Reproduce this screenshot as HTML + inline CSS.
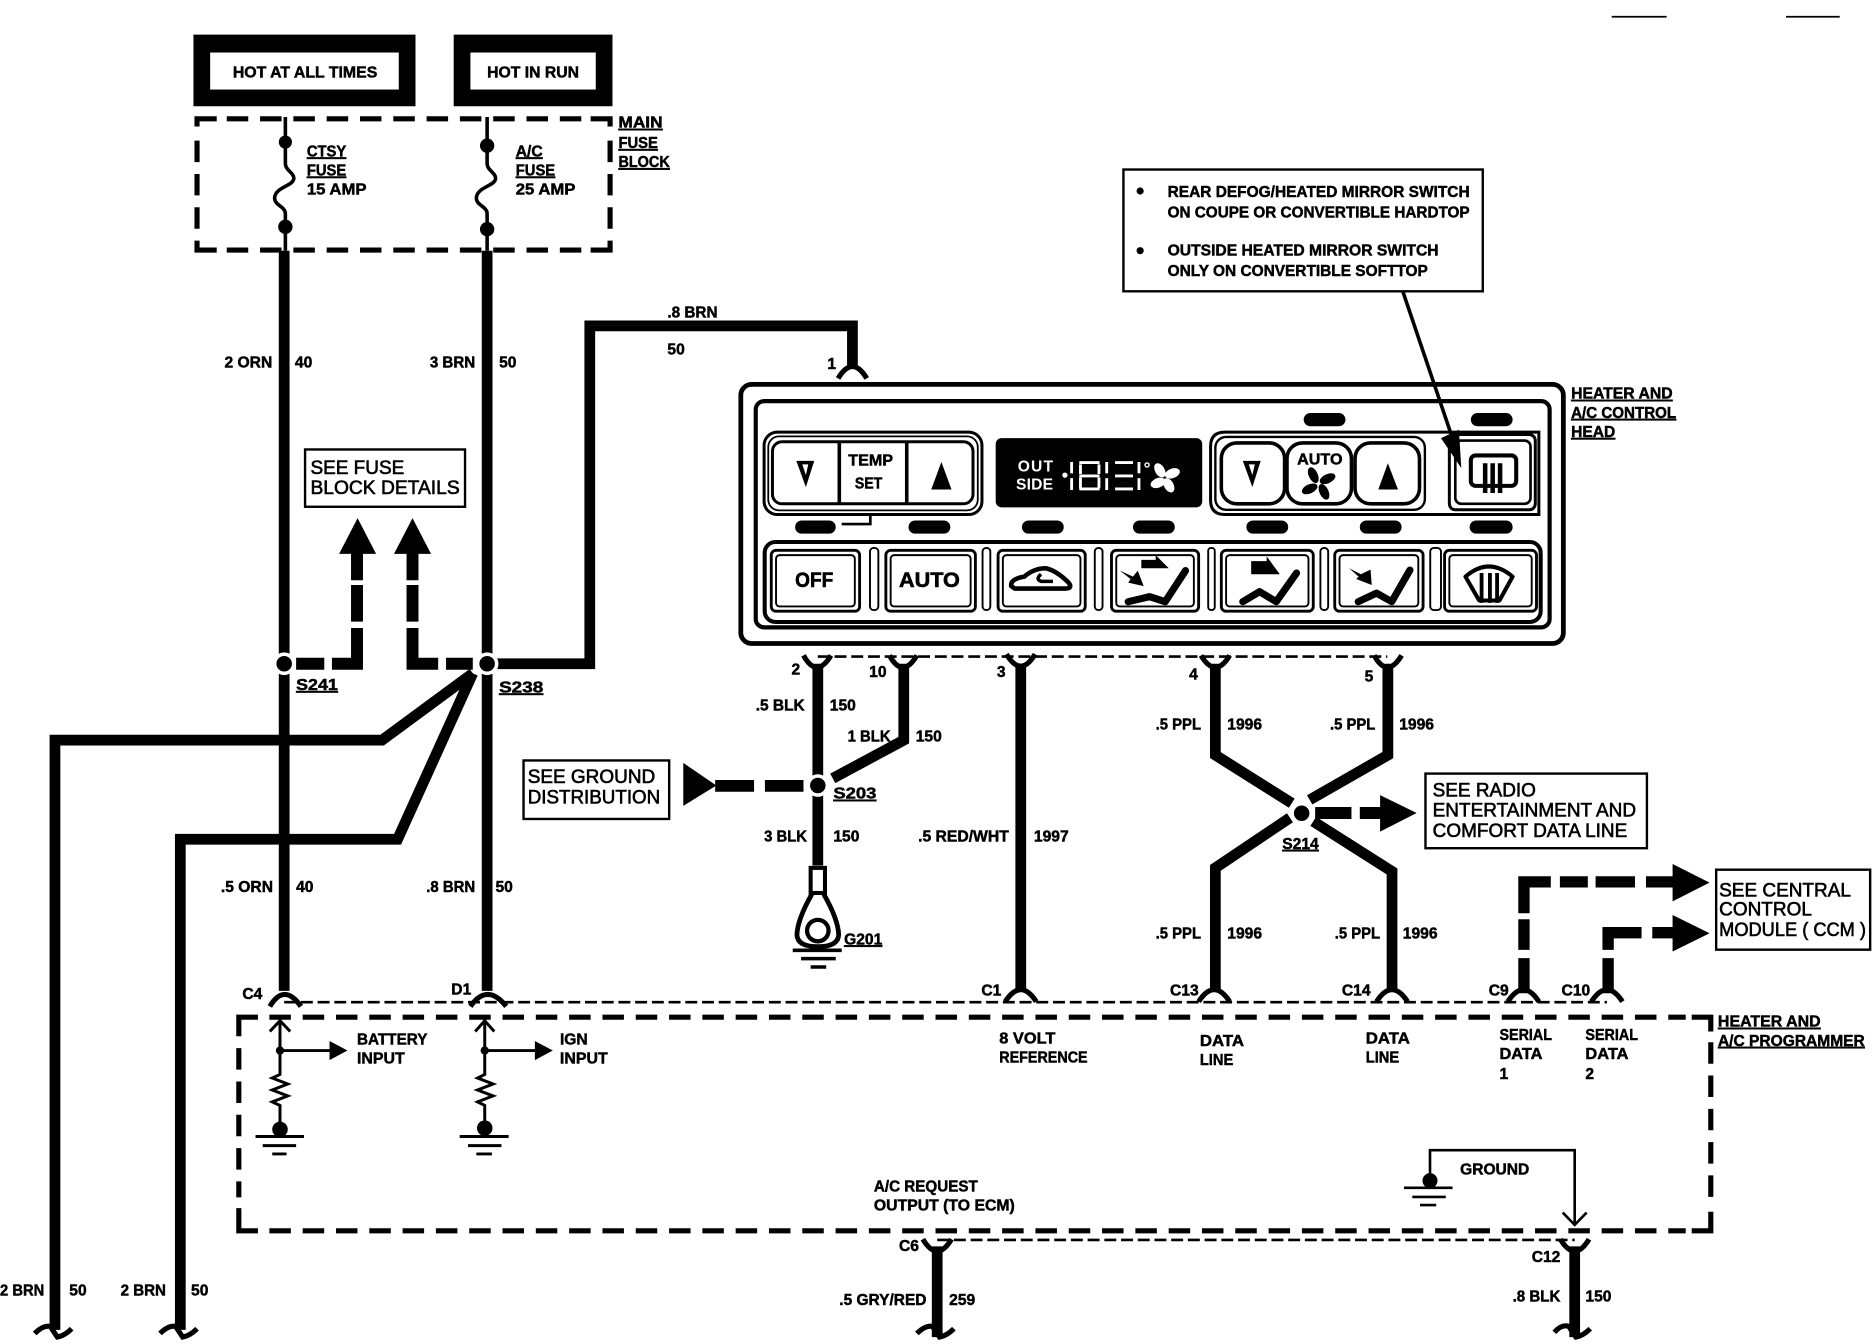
<!DOCTYPE html>
<html><head><meta charset="utf-8"><style>
html,body{margin:0;padding:0;background:#fff}
svg{display:block}
text{font-family:"Liberation Sans",sans-serif;font-weight:bold;font-size:13.1px;fill:#000;stroke:#000;stroke-width:.4px}
.n{font-weight:normal;font-size:15.9px;stroke-width:.5px}
.u{text-decoration:underline}
.w{fill:none;stroke:#000;stroke-width:9}
.t{fill:none;stroke:#000;stroke-width:3}
.b{fill:none;stroke:#000;stroke-width:4}
.th{fill:none;stroke:#000;stroke-width:2.2}
.bx{fill:none;stroke:#000;stroke-width:4.3;stroke-dasharray:18 9.9}
.c{fill:none;stroke:#000;stroke-width:4.3}
.p{fill:#000}
.dot{fill:#000;stroke:#fff;stroke-width:3}
</style></head><body>
<svg xmlns="http://www.w3.org/2000/svg" width="1872" height="1344" viewBox="0 0 1568 1125.8">
<rect width="1568" height="1126" fill="#fff"/>
<line x1="1350" y1="14" x2="1396" y2="14" stroke="#000" stroke-width="1.5"/>
<line x1="1496" y1="14" x2="1541" y2="14" stroke="#000" stroke-width="1.5"/>

<!-- hot boxes -->
<rect x="162" y="29" width="186" height="60" class="p"/><rect x="176" y="44" width="158" height="31" fill="#fff"/>
<rect x="380" y="29" width="133" height="60" class="p"/><rect x="394" y="44" width="105" height="31" fill="#fff"/>
<text x="195" y="65" textLength="121" lengthAdjust="spacingAndGlyphs">HOT AT ALL TIMES</text>
<text x="408" y="65" textLength="77" lengthAdjust="spacingAndGlyphs">HOT IN RUN</text>

<!-- fuse block -->
<path class="c" d="M165 106V99.500H181.500M511 106V99.500H494.700M165 201.600V209.500H181.500M511 201.600V209.500H494.700"/>
<path class="bx" d="M189.900 99.500H490M189.900 209.500H490"/>
<path class="bx" d="M165 117.800V195M511 117.800V195"/>
<path class="t" d="M239 98V137C239 143 247 145 246 150C245 156 230 157 230 166C230 172 239 173 239 179V210"/>
<path class="t" d="M408 98V137C408 143 416 145 415 150C414 156 399 157 399 166C399 172 408 173 408 179V210"/>
<circle cx="239" cy="119" r="5.500"/><circle cx="239" cy="190" r="6"/>
<circle cx="408" cy="122" r="6"/><circle cx="408" cy="192" r="6"/>
<text x="257" y="131" class="u" textLength="33" lengthAdjust="spacingAndGlyphs">CTSY</text><text x="257" y="147" class="u" textLength="33" lengthAdjust="spacingAndGlyphs">FUSE</text><text x="257" y="163" textLength="50" lengthAdjust="spacingAndGlyphs">15 AMP</text>
<text x="432" y="131" class="u">A/C</text><text x="432" y="147" class="u" textLength="33" lengthAdjust="spacingAndGlyphs">FUSE</text><text x="432" y="163" textLength="50" lengthAdjust="spacingAndGlyphs">25 AMP</text>
<text x="518" y="107" class="u" textLength="37" lengthAdjust="spacingAndGlyphs">MAIN</text><text x="518" y="124" class="u" textLength="33" lengthAdjust="spacingAndGlyphs">FUSE</text><text x="518" y="140" class="u" textLength="43" lengthAdjust="spacingAndGlyphs">BLOCK</text>

<!-- main wires -->
<path class="w" d="M238 210V830M408 210V830"/>
<path class="w" d="M408 556H494V273H714V306"/>
<path class="w" d="M396 564L320 620H46V1114"/>
<path class="w" d="M396 564L333 703H151V1114"/>
<path class="c" d="M702 317Q714 297 726 317"/>
<path class="c" d="M29 1117Q36 1110 42 1111L48 1120Q54 1119 60 1113M134 1117Q141 1110 147 1111L153 1120Q159 1119 165 1113"/>

<!-- dashed to fuse block details -->
<g fill="none" stroke="#000" stroke-width="10">
<path d="M248 556H271.600M278 556H299V526M299 520.700V490M299 486V460"/>
<path d="M396 556H373.600M367 556H345.500V526M345.500 520.700V490M345.500 486V460"/>
</g>
<path class="p" d="M284 464H315L299.500 434ZM330 464H361L345.500 434Z"/>
<circle cx="238" cy="556" r="8" class="dot"/>
<circle cx="408" cy="556" r="8" class="dot"/>

<text x="188" y="308">2 ORN</text><text x="247" y="308">40</text>
<text x="360" y="308" textLength="38" lengthAdjust="spacingAndGlyphs">3 BRN</text><text x="418" y="308">50</text>
<text x="559" y="266" textLength="42" lengthAdjust="spacingAndGlyphs">.8 BRN</text><text x="559" y="297">50</text>
<text x="693" y="309">1</text>

<rect x="255.500" y="376.500" width="134" height="48" fill="#fff" stroke="#000" stroke-width="2"/>
<text class="n" x="260" y="397">SEE FUSE</text><text class="n" x="260" y="414" textLength="125" lengthAdjust="spacingAndGlyphs">BLOCK DETAILS</text>

<text x="248" y="578" class="u" textLength="35" lengthAdjust="spacingAndGlyphs">S241</text>
<text x="418" y="580" class="u" textLength="37" lengthAdjust="spacingAndGlyphs">S238</text>

<text x="185" y="747">.5 ORN</text><text x="248" y="747">40</text>
<text x="357" y="747" textLength="41" lengthAdjust="spacingAndGlyphs">.8 BRN</text><text x="415" y="747">50</text>
<text x="0" y="1085" textLength="37" lengthAdjust="spacingAndGlyphs">2 BRN</text><text x="58" y="1085">50</text>
<text x="101" y="1085" textLength="38" lengthAdjust="spacingAndGlyphs">2 BRN</text><text x="160" y="1085">50</text>

<!-- control head -->
<rect x="620.500" y="322" width="689" height="217" rx="9" class="b"/>
<rect x="633" y="336" width="665" height="189.500" rx="7" style="fill:none;stroke:#000;stroke-width:3.500"/>
<g class="p">
<rect x="1092" y="346" width="35" height="11" rx="5.500"/><rect x="1232" y="346" width="35" height="11" rx="5.500"/>
<rect x="666" y="436" width="34" height="11" rx="5.500"/><rect x="761" y="436" width="35" height="11" rx="5.500"/>
<rect x="856" y="436" width="35" height="11" rx="5.500"/><rect x="949" y="436" width="35" height="11" rx="5.500"/>
<rect x="1044" y="436" width="35" height="11" rx="5.500"/><rect x="1139" y="436" width="35" height="11" rx="5.500"/>
<rect x="1231" y="436" width="36" height="11" rx="5.500"/>
</g>
<path class="th" d="M705 439H729V432"/>

<!-- temp group -->
<rect x="640" y="362" width="182.500" height="69" rx="11" style="fill:none;stroke:#000;stroke-width:2.500"/>
<rect x="643.500" y="365.500" width="175.500" height="62" rx="9" style="fill:none;stroke:#000;stroke-width:1.500"/>
<rect x="647" y="370" width="168" height="52" rx="8" style="fill:none;stroke:#000;stroke-width:2.500"/>
<path class="t" d="M703 370V422M759.500 370V422"/>
<path class="p" d="M667 386H682L675 408Z"/><path fill="#fff" d="M672 389H677L675 398Z"/>
<path class="p" d="M788.500 387L780 410H797Z"/>
<text x="710.500" y="390" textLength="37.500" lengthAdjust="spacingAndGlyphs">TEMP</text><text x="716" y="409" textLength="23" lengthAdjust="spacingAndGlyphs">SET</text>

<!-- display -->
<rect x="834" y="367" width="173" height="58" rx="5" class="p"/>
<text x="852.500" y="395" textLength="29.500" style="fill:#fff;stroke:none" font-weight="normal">OUT</text>
<text x="851" y="410" textLength="31" style="fill:#fff;stroke:none" font-weight="normal">SIDE</text>
<g stroke="#fff" stroke-width="2.400" fill="none">
<path d="M897.600 387V396.500M897.600 400.500V410.500M904 387.500H921M904 398.700H921M904 409.600H921M905 389V397M920.500 389V397M905 400V409M920.500 400V409M927 387V396.500M927 400.500V410.500M934 387.500H949M934 398.700H949M934 409.600H949M954 387V396.500M954 400.500V410.500"/>
</g>
<circle cx="892" cy="398" r="2.200" fill="#fff"/>
<circle cx="960.800" cy="389.500" r="1.700" fill="none" stroke="#fff" stroke-width="1.200"/>
<g fill="#fff"><ellipse cx="971.500" cy="394" rx="4" ry="6.500" transform="rotate(-30 971.500 394)"/><ellipse cx="982" cy="396.500" rx="6.500" ry="4" transform="rotate(-20 982 396.500)"/><ellipse cx="979" cy="406.500" rx="4" ry="6.500" transform="rotate(-30 979 406.500)"/><ellipse cx="970" cy="404.500" rx="6.500" ry="4" transform="rotate(-20 970 404.500)"/></g>

<!-- fan group -->
<path style="fill:none;stroke:#000;stroke-width:2.500" d="M1289 362H1026Q1014 362 1014 374V419Q1014 431 1026 431H1289Z"/>
<rect x="1018" y="366" width="175.500" height="61" rx="9" style="fill:none;stroke:#000;stroke-width:2"/>
<rect x="1023" y="371" width="53" height="51" rx="13" class="t"/>
<rect x="1078" y="371" width="54" height="51" rx="13" class="t"/>
<rect x="1135" y="371" width="54" height="51" rx="13" class="t"/>
<path class="p" d="M1041 386H1056L1049 408Z"/><path fill="#fff" d="M1046 389H1051L1049 398Z"/>
<path class="p" d="M1162.500 388L1154.500 410H1171Z"/>
<text x="1086.500" y="389" textLength="38" lengthAdjust="spacingAndGlyphs">AUTO</text>
<g class="p"><ellipse cx="1100" cy="398" rx="3.800" ry="7" transform="rotate(-25 1100 398)"/><ellipse cx="1112" cy="401" rx="7" ry="3.800" transform="rotate(-25 1112 401)"/><ellipse cx="1109" cy="412" rx="3.800" ry="7" transform="rotate(-25 1109 412)"/><ellipse cx="1097" cy="409.500" rx="7" ry="3.800" transform="rotate(-25 1097 409.500)"/></g>
<rect x="1214" y="364" width="72" height="63" rx="5" style="fill:none;stroke:#000;stroke-width:2.500"/>
<rect x="1219" y="369" width="63" height="53" rx="5" class="th"/>
<rect x="1232" y="381.500" width="38" height="25.500" rx="4" style="fill:none;stroke:#000;stroke-width:3.400"/>
<path d="M1244 388V413M1250.300 388V413M1256.500 388V413" stroke="#000" stroke-width="3.800" fill="none"/>

<!-- bottom row -->
<rect x="640.500" y="454" width="650" height="67" rx="9" style="fill:none;stroke:#000;stroke-width:3.400"/>
<g style="fill:none;stroke:#000;stroke-width:2.400">
<rect x="646" y="461" width="74" height="51" rx="4"/><rect x="742" y="461" width="75" height="51" rx="4"/>
<rect x="836" y="461" width="73" height="51" rx="4"/><rect x="931" y="461" width="73" height="51" rx="4"/>
<rect x="1023" y="461" width="77" height="51" rx="4"/><rect x="1118" y="461" width="74" height="51" rx="4"/>
<rect x="1210" y="461" width="77" height="51" rx="4"/>
</g>
<g style="fill:none;stroke:#000;stroke-width:1.600">
<rect x="650" y="465" width="66" height="43" rx="3"/><rect x="746" y="465" width="67" height="43" rx="3"/>
<rect x="840" y="465" width="65" height="43" rx="3"/><rect x="935" y="465" width="65" height="43" rx="3"/>
<rect x="1027" y="465" width="69" height="43" rx="3"/><rect x="1122" y="465" width="66" height="43" rx="3"/>
<rect x="1214" y="465" width="69" height="43" rx="3"/>
<rect x="728.700" y="459" width="7" height="52" rx="3"/><rect x="823" y="459" width="6.500" height="52" rx="3"/>
<rect x="917" y="459" width="6.500" height="52" rx="3"/><rect x="1012" y="459" width="5.500" height="52" rx="2.500"/>
<rect x="1106" y="459" width="6.500" height="52" rx="3"/><rect x="1198" y="459" width="9" height="52" rx="3"/>
</g>
<text x="666" y="491.500" textLength="32" lengthAdjust="spacingAndGlyphs" style="font-size:17.500px;stroke-width:.5">OFF</text>
<text x="753" y="491.500" textLength="51" lengthAdjust="spacingAndGlyphs" style="font-size:17.500px;stroke-width:.5">AUTO</text>
<path style="fill:none;stroke:#000;stroke-width:3.800;stroke-linejoin:round" d="M847 491Q846 485 858 483Q866 476 876 476Q885 478 895 488Q899 493 892 493H850Z"/>
<path class="t" d="M882 487H872Q867 485 872 481"/>
<g fill="none" stroke="#000" stroke-width="6" stroke-linecap="round" stroke-linejoin="round">
<path d="M945 504L963 499.800L976 504L993 478"/>
<path d="M1041 504L1055 495.600L1069 504L1086 480"/>
<path d="M1137.700 504L1153 496.800L1165.700 504L1181 477.500"/>
</g>
<g class="p">
<path d="M956 469H968V465L979 476H956Z"/><path d="M938 478L949 483L953 478L958 491L945 488L947 485Z"/>
<path d="M1048 470H1061V466L1072 481H1048Z"/>
<path d="M1130 476L1140 481L1148 477L1149 490L1136 485L1138 483Z"/>
</g>
<path style="fill:none;stroke:#000;stroke-width:3.400;stroke-linejoin:round" d="M1227.500 483Q1247 466 1267 483L1256 503H1239Z"/>
<path d="M1241 480V505M1248 480V505M1254 480V505" stroke="#000" stroke-width="3.200" fill="none"/>

<text x="1316" y="334" class="u" textLength="85" lengthAdjust="spacingAndGlyphs">HEATER AND</text><text x="1316" y="350" class="u" textLength="88" lengthAdjust="spacingAndGlyphs">A/C CONTROL</text><text x="1316" y="366" class="u" textLength="37" lengthAdjust="spacingAndGlyphs">HEAD</text>

<!-- note -->
<rect x="941" y="142" width="301" height="102" fill="#fff" stroke="#000" stroke-width="2"/>
<circle cx="955" cy="160" r="3"/><circle cx="955" cy="210" r="3"/>
<text x="978" y="165" textLength="253" lengthAdjust="spacingAndGlyphs">REAR DEFOG/HEATED MIRROR SWITCH</text>
<text x="978" y="182" textLength="253" lengthAdjust="spacingAndGlyphs">ON COUPE OR CONVERTIBLE HARDTOP</text>
<text x="978" y="214" textLength="227" lengthAdjust="spacingAndGlyphs">OUTSIDE HEATED MIRROR SWITCH</text>
<text x="978" y="231" textLength="218" lengthAdjust="spacingAndGlyphs">ONLY ON CONVERTIBLE SOFTTOP</text>
<path class="t" d="M1175 244L1221 380"/>
<path class="p" d="M1207 367L1224 392L1222 360Z"/>

<!-- under-head connectors -->
<path d="M685 550H1162" fill="none" stroke="#000" stroke-width="2.200" stroke-dasharray="10 4"/>
<path class="w" d="M685 556V725M757 556V620L697.500 652M855 556V830M1018 556V632.500L1082 672.800M1162.500 556V632.500L1097 670"/>
<path class="w" d="M1080.500 685L1018 727V830M1100 688L1166 730V830"/>
<path class="c" d="M673 549Q684 569 696 549M745 549Q756 569 768 549M843 548Q855 568 867 548M1006 549Q1018 569 1030 549M1151 549Q1162 569 1174 549"/>
<circle cx="685" cy="658" r="8" class="dot"/>
<circle cx="1090.300" cy="681.200" r="8" class="dot"/>
<path fill="none" stroke="#000" stroke-width="9.800" d="M599 658.300H631.600M640.700 658.300H673"/>
<path class="p" d="M572.300 639V675L600 658Z"/>
<path fill="none" stroke="#000" stroke-width="10" d="M1101.600 681H1132M1139 681H1158"/>
<path class="p" d="M1156 666V696.600L1186.600 681Z"/>
<rect x="438.500" y="637" width="122" height="49" fill="#fff" stroke="#000" stroke-width="2"/>
<text class="n" x="442" y="656">SEE GROUND</text><text class="n" x="442" y="673" textLength="111" lengthAdjust="spacingAndGlyphs">DISTRIBUTION</text>
<rect x="1194" y="648" width="185.500" height="62.500" fill="#fff" stroke="#000" stroke-width="2"/>
<text class="n" x="1200" y="667">SEE RADIO</text><text class="n" x="1200" y="684">ENTERTAINMENT AND</text><text class="n" x="1200" y="701">COMFORT DATA LINE</text>

<text x="663" y="565">2</text><text x="728" y="567">10</text><text x="835" y="567">3</text><text x="996" y="569">4</text><text x="1143" y="571">5</text>
<text x="633" y="595" textLength="41" lengthAdjust="spacingAndGlyphs">.5 BLK</text><text x="695" y="595">150</text>
<text x="710" y="621" textLength="36" lengthAdjust="spacingAndGlyphs">1 BLK</text><text x="767" y="621">150</text>
<text x="640" y="705" textLength="36" lengthAdjust="spacingAndGlyphs">3 BLK</text><text x="698" y="705">150</text>
<text x="769" y="705" textLength="76" lengthAdjust="spacingAndGlyphs">.5 RED/WHT</text><text x="866" y="705">1997</text>
<text x="968" y="611" textLength="38" lengthAdjust="spacingAndGlyphs">.5 PPL</text><text x="1028" y="611">1996</text>
<text x="1114" y="611" textLength="38" lengthAdjust="spacingAndGlyphs">.5 PPL</text><text x="1172" y="611">1996</text>
<text x="968" y="786" textLength="38" lengthAdjust="spacingAndGlyphs">.5 PPL</text><text x="1028" y="786">1996</text>
<text x="1118" y="786" textLength="38" lengthAdjust="spacingAndGlyphs">.5 PPL</text><text x="1175" y="786">1996</text>
<text x="698" y="669" class="u" textLength="36" lengthAdjust="spacingAndGlyphs">S203</text>
<text x="1074" y="711" class="u">S214</text>
<text x="707" y="791" class="u">G201</text>

<!-- ground lug -->
<rect x="679" y="727" width="12" height="21" fill="#fff" stroke="#000" stroke-width="3.400"/>
<path class="b" d="M680 749Q668 770 667.500 783Q668 793 685 793Q702 793 702.500 783Q702 770 690 749"/>
<circle cx="685" cy="779.500" r="9" style="fill:#fff;stroke:#000;stroke-width:3.600"/>
<path class="t" d="M664 796H705M671 803H700M679 810H692"/>

<!-- programmer -->
<path d="M238 839.500H1346" fill="none" stroke="#000" stroke-width="2.200" stroke-dasharray="10 4"/>
<path class="c" d="M200 868V852H216M1417 852H1433V864M200 1012V1031H216M1417 1031H1433V1015"/>
<path class="bx" d="M225.600 852H1412M225.600 1031H1412"/>
<path class="bx" d="M200 878V1003M1433 873V1008"/>
<path class="c" d="M226 843Q238 823 252 843M394 843Q408 823 424 843M842 839Q855 819 868 839M1004 839Q1017 819 1030 839M1153 839Q1166 819 1179 839M1263 839Q1276 819 1289 839M1333 839Q1346 819 1359 839"/>
<g fill="none" stroke="#000" stroke-width="9.500">
<path d="M1276.500 765V738.700H1299M1306.600 738.700H1330M1336.500 738.700H1369.500M1378.700 738.700H1403M1276.500 770V795.700M1276.500 802.600V832"/>
<path d="M1347 795.700V781.300H1375M1384 781.300H1403M1347 802.600V832"/>
</g>
<path class="p" d="M1401 723.700V755L1432 739.300ZM1401 766.400V797L1432 781.700Z"/>
<rect x="1437.500" y="728.500" width="129" height="67" fill="#fff" stroke="#000" stroke-width="2"/>
<text class="n" x="1440" y="751">SEE CENTRAL</text><text class="n" x="1440" y="767">CONTROL</text><text class="n" x="1440" y="784" textLength="123" lengthAdjust="spacingAndGlyphs">MODULE ( CCM )</text>

<text x="203" y="837">C4</text><text x="378" y="833">D1</text><text x="822" y="834">C1</text>
<text x="980" y="834">C13</text><text x="1124" y="834">C14</text><text x="1247" y="834">C9</text><text x="1308" y="834">C10</text>

<!-- inputs -->
<g style="fill:none;stroke:#000;stroke-width:2.500">
<path d="M234.500 852V900L228 903L241 908L228 913L241 918L228 923L234.500 926V942"/>
<path d="M226 864L234.500 855L243 864"/>
<path d="M234.500 880H278"/>
<path d="M406 852V900L400 903L413 908L400 913L413 918L400 923L406 926V942"/>
<path d="M398 864L406 855L414 864"/>
<path d="M406 880H450"/>
<path d="M214 952H254.600M220 959.600H248M228 966.600H240"/>
<path d="M385 952H426M392 959.600H420M399 966.600H412"/>
</g>
<circle cx="234.500" cy="880" r="3.500"/><circle cx="406" cy="880" r="3.500"/>
<circle cx="234.500" cy="946" r="6.500"/><circle cx="406" cy="945" r="6.500"/>
<path class="p" d="M276 872L291 880L276 888ZM448 872L463 880L448 888Z"/>
<text x="299" y="875" textLength="59" lengthAdjust="spacingAndGlyphs">BATTERY</text><text x="299" y="891" textLength="40" lengthAdjust="spacingAndGlyphs">INPUT</text>
<text x="469" y="875">IGN</text><text x="469" y="891" textLength="40" lengthAdjust="spacingAndGlyphs">INPUT</text>
<text x="837" y="874" textLength="47" lengthAdjust="spacingAndGlyphs">8 VOLT</text><text x="837" y="890" textLength="74" lengthAdjust="spacingAndGlyphs">REFERENCE</text>
<text x="1005" y="876" textLength="37" lengthAdjust="spacingAndGlyphs">DATA</text><text x="1005" y="892" textLength="28" lengthAdjust="spacingAndGlyphs">LINE</text>
<text x="1144" y="874" textLength="37" lengthAdjust="spacingAndGlyphs">DATA</text><text x="1144" y="890" textLength="28" lengthAdjust="spacingAndGlyphs">LINE</text>
<text x="1256" y="871" textLength="44" lengthAdjust="spacingAndGlyphs">SERIAL</text><text x="1256" y="887" textLength="36" lengthAdjust="spacingAndGlyphs">DATA</text><text x="1256" y="904">1</text>
<text x="1328" y="871" textLength="44" lengthAdjust="spacingAndGlyphs">SERIAL</text><text x="1328" y="887" textLength="36" lengthAdjust="spacingAndGlyphs">DATA</text><text x="1328" y="904">2</text>
<text x="1439" y="860" class="u" textLength="86" lengthAdjust="spacingAndGlyphs">HEATER AND</text><text x="1439" y="876" class="u" textLength="123" lengthAdjust="spacingAndGlyphs">A/C PROGRAMMER</text>
<text x="732" y="998" textLength="87" lengthAdjust="spacingAndGlyphs">A/C REQUEST</text><text x="732" y="1014" textLength="118" lengthAdjust="spacingAndGlyphs">OUTPUT (TO ECM)</text>
<text x="1223" y="984" textLength="58" lengthAdjust="spacingAndGlyphs">GROUND</text>

<path class="th" d="M1197.800 986V963.500H1319V1026"/>
<path class="th" d="M1309 1015.700L1319 1026L1329 1015.700"/>
<circle cx="1197.800" cy="989" r="6.300"/>
<path class="th" d="M1176 995H1216.700M1183 1002.600H1211M1189.400 1009.400H1203"/>

<!-- bottom connectors -->
<path d="M785 1038.600H1319" fill="none" stroke="#000" stroke-width="2.200" stroke-dasharray="10 4"/>
<path class="w" d="M785 1044V1120M1319 1044V1120"/>
<path class="c" d="M773 1038Q785 1058 797 1038M1307 1038Q1319 1058 1331 1038"/>
<path class="c" d="M768 1117Q775 1110 781 1111L787 1120Q793 1119 799 1113M1302 1116Q1308 1109 1314 1111L1320 1120Q1326 1119 1332 1113"/>
<text x="753" y="1048">C6</text><text x="1283" y="1057">C12</text>
<text x="703" y="1093" textLength="73" lengthAdjust="spacingAndGlyphs">.5 GRY/RED</text><text x="795" y="1093">259</text>
<text x="1267" y="1090" textLength="40" lengthAdjust="spacingAndGlyphs">.8 BLK</text><text x="1328" y="1090">150</text>
</svg>
</body></html>
